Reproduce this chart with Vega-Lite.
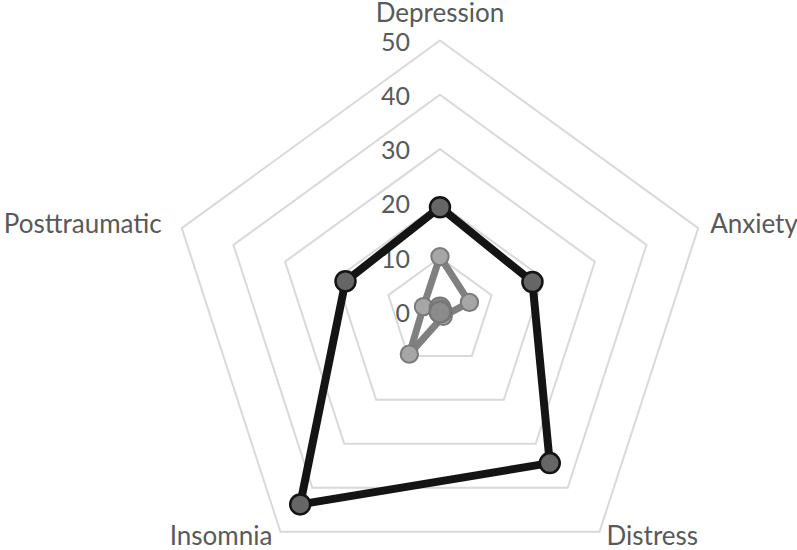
{
  "$schema": "https://vega.github.io/schema/vega-lite/v6.json",
  "width": 797,
  "height": 550,
  "autosize": "none",
  "padding": 0,
  "background": "white",
  "config": {"view": {"stroke": null}, "text": {"font": "Lato", "color": "#595959"}},
  "datasets": {
    "scores": [
      {"series": "S1", "axis": "Depression", "value": 19.3},
      {"series": "S1", "axis": "Anxiety", "value": 17.9},
      {"series": "S1", "axis": "Distress", "value": 34.4},
      {"series": "S1", "axis": "Insomnia", "value": 43.8},
      {"series": "S1", "axis": "Posttraumatic", "value": 18.3},
      {"series": "S2", "axis": "Depression", "value": 10.2},
      {"series": "S2", "axis": "Anxiety", "value": 5.7},
      {"series": "S2", "axis": "Distress", "value": 1},
      {"series": "S2", "axis": "Insomnia", "value": 9.6},
      {"series": "S2", "axis": "Posttraumatic", "value": 3.2},
      {"series": "S3", "axis": "Depression", "value": 0.8},
      {"series": "S3", "axis": "Anxiety", "value": 0.3},
      {"series": "S3", "axis": "Distress", "value": 0},
      {"series": "S3", "axis": "Insomnia", "value": 0},
      {"series": "S3", "axis": "Posttraumatic", "value": 0}
    ],
    "grid": [
      {"level": 10, "axis": "Depression"}, {"level": 10, "axis": "Anxiety"}, {"level": 10, "axis": "Distress"}, {"level": 10, "axis": "Insomnia"}, {"level": 10, "axis": "Posttraumatic"},
      {"level": 20, "axis": "Depression"}, {"level": 20, "axis": "Anxiety"}, {"level": 20, "axis": "Distress"}, {"level": 20, "axis": "Insomnia"}, {"level": 20, "axis": "Posttraumatic"},
      {"level": 30, "axis": "Depression"}, {"level": 30, "axis": "Anxiety"}, {"level": 30, "axis": "Distress"}, {"level": 30, "axis": "Insomnia"}, {"level": 30, "axis": "Posttraumatic"},
      {"level": 40, "axis": "Depression"}, {"level": 40, "axis": "Anxiety"}, {"level": 40, "axis": "Distress"}, {"level": 40, "axis": "Insomnia"}, {"level": 40, "axis": "Posttraumatic"},
      {"level": 50, "axis": "Depression"}, {"level": 50, "axis": "Anxiety"}, {"level": 50, "axis": "Distress"}, {"level": 50, "axis": "Insomnia"}, {"level": 50, "axis": "Posttraumatic"}
    ],
    "ticks": [
      {"tick": 0}, {"tick": 10}, {"tick": 20}, {"tick": 30}, {"tick": 40}, {"tick": 50}
    ],
    "labels": [
      {"axis": "Depression", "r": 50},
      {"axis": "Anxiety", "r": 50},
      {"axis": "Distress", "r": 50},
      {"axis": "Insomnia", "r": 50},
      {"axis": "Posttraumatic", "r": 50}
    ]
  },
  "encoding": {
    "x": {"field": "px", "type": "quantitative", "scale": {"domain": [-81.03, 65.75], "nice": false, "zero": false}, "axis": null},
    "y": {"field": "py", "type": "quantitative", "scale": {"domain": [-43.83, 57.46], "nice": false, "zero": false}, "axis": null}
  },
  "layer": [
    {
      "data": {"name": "grid"},
      "transform": [
        {"calculate": "datum.axis == 'Depression' ? 0 : datum.axis == 'Anxiety' ? 1 : datum.axis == 'Distress' ? 2 : datum.axis == 'Insomnia' ? 3 : 4", "as": "idx"},
        {"calculate": "datum.level * cos(PI / 2 - datum.idx * 2 * PI / 5)", "as": "px"},
        {"calculate": "datum.level * sin(PI / 2 - datum.idx * 2 * PI / 5)", "as": "py"}
      ],
      "mark": {"type": "line", "interpolate": "linear-closed", "color": "#d9d9d9", "strokeWidth": 2},
      "encoding": {
        "detail": {"field": "level", "type": "nominal"},
        "order": {"field": "idx", "type": "quantitative"}
      }
    },
    {
      "data": {"name": "ticks"},
      "transform": [
        {"calculate": "0", "as": "px"},
        {"calculate": "datum.tick", "as": "py"}
      ],
      "mark": {"type": "text", "align": "right", "baseline": "alphabetic", "dx": -30, "dy": 10, "fontSize": 25},
      "encoding": {"text": {"field": "tick", "type": "quantitative"}}
    },
    {
      "data": {"name": "scores"},
      "transform": [
        {"calculate": "datum.axis == 'Depression' ? 0 : datum.axis == 'Anxiety' ? 1 : datum.axis == 'Distress' ? 2 : datum.axis == 'Insomnia' ? 3 : 4", "as": "idx"},
        {"calculate": "datum.value * cos(PI / 2 - datum.idx * 2 * PI / 5)", "as": "px"},
        {"calculate": "datum.value * sin(PI / 2 - datum.idx * 2 * PI / 5)", "as": "py"}
      ],
      "layer": [
        {
          "transform": [{"filter": "datum.series != 'S1'"}],
          "mark": {"type": "line", "interpolate": "linear-closed", "color": "#808080", "strokeWidth": 7, "strokeJoin": "round"},
          "encoding": {
            "detail": {"field": "series", "type": "nominal"},
            "order": {"field": "idx", "type": "quantitative"}
          }
        },
        {
          "transform": [{"filter": "datum.series == 'S2'"}],
          "mark": {"type": "point", "filled": true, "fill": "#a6a6a6", "stroke": "#7a7a7a", "strokeWidth": 2, "size": 300, "opacity": 1}
        },
        {
          "transform": [{"filter": "datum.series == 'S3'"}],
          "mark": {"type": "point", "filled": true, "fill": "#8c8c8c", "stroke": "#777777", "strokeWidth": 2, "size": 420, "opacity": 1}
        },
        {
          "transform": [{"filter": "datum.series == 'S1'"}],
          "mark": {"type": "line", "interpolate": "linear-closed", "color": "#141414", "strokeWidth": 8, "strokeJoin": "round"},
          "encoding": {"order": {"field": "idx", "type": "quantitative"}}
        },
        {
          "transform": [{"filter": "datum.series == 'S1'"}],
          "mark": {"type": "point", "filled": true, "fill": "#666666", "stroke": "#141414", "strokeWidth": 2.5, "size": 400, "opacity": 1}
        }
      ]
    },
    {
      "data": {"name": "labels"},
      "transform": [
        {"calculate": "datum.axis == 'Depression' ? 0 : datum.axis == 'Anxiety' ? 1 : datum.axis == 'Distress' ? 2 : datum.axis == 'Insomnia' ? 3 : 4", "as": "idx"},
        {"calculate": "datum.r * cos(PI / 2 - datum.idx * 2 * PI / 5)", "as": "px"},
        {"calculate": "datum.r * sin(PI / 2 - datum.idx * 2 * PI / 5)", "as": "py"}
      ],
      "encoding": {"text": {"field": "axis", "type": "nominal"}},
      "layer": [
        {
          "transform": [{"filter": "datum.axis == 'Depression'"}],
          "mark": {"type": "text", "align": "center", "baseline": "alphabetic", "dy": -19, "fontSize": 26}
        },
        {
          "transform": [{"filter": "datum.axis == 'Anxiety'"}],
          "mark": {"type": "text", "align": "left", "baseline": "alphabetic", "dx": 12, "dy": 5, "fontSize": 26}
        },
        {
          "transform": [{"filter": "datum.axis == 'Posttraumatic'"}],
          "mark": {"type": "text", "align": "right", "baseline": "alphabetic", "dx": -20, "dy": 5, "fontSize": 26}
        },
        {
          "transform": [{"filter": "datum.axis == 'Insomnia'"}],
          "mark": {"type": "text", "align": "right", "baseline": "alphabetic", "dx": -8, "dy": 13, "fontSize": 26}
        },
        {
          "transform": [{"filter": "datum.axis == 'Distress'"}],
          "mark": {"type": "text", "align": "left", "baseline": "alphabetic", "dx": 7, "dy": 13, "fontSize": 26}
        }
      ]
    }
  ]
}
